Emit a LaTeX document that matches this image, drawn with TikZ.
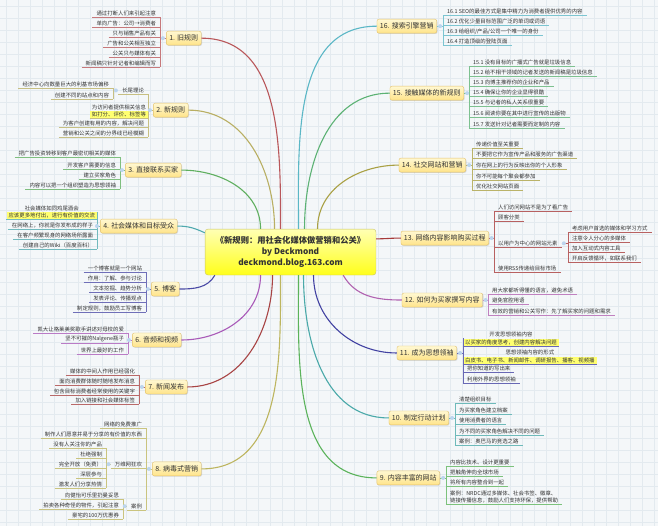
\documentclass[tikz,border=0pt]{standalone}
\usepackage{fontspec}
\setmainfont{Noto Sans CJK SC}
\usepackage{tikz}
\usetikzlibrary{positioning,shadows}
\definecolor{Paper}{HTML}{F4F7F9}
\definecolor{Grid}{HTML}{E3EAEF}
\definecolor{Ink}{HTML}{333333}
\definecolor{CoreLine}{HTML}{C9C36A}
\definecolor{CoreTop}{HTML}{FFFFB4}
\definecolor{CoreBot}{HTML}{FFFF1A}
\definecolor{TopicLine}{HTML}{E3C26E}
\definecolor{TopicTop}{HTML}{FFF8D2}
\definecolor{TopicBot}{HTML}{FFE48A}
\definecolor{HiYellow}{HTML}{FFFF70}
\definecolor{Knob}{HTML}{BCD5EE}
\definecolor{Brick}{HTML}{B9575A}
\definecolor{Olive}{HTML}{B9AF63}
\definecolor{Leaf}{HTML}{5FAF5F}
\definecolor{Teal}{HTML}{4FA9AE}
\definecolor{Indigo}{HTML}{4B4BA6}
\definecolor{Orchid}{HTML}{A95AB8}
\definecolor{Maroon}{HTML}{A84444}
\definecolor{Straw}{HTML}{BDB55F}
\definecolor{Cyan}{HTML}{5BB7C6}
\definecolor{Jade}{HTML}{5CB274}
\definecolor{Moss}{HTML}{A9A043}
\definecolor{Crimson}{HTML}{A63A3A}
\definecolor{Plum}{HTML}{B062B0}
\definecolor{Navy}{HTML}{4242A2}
\definecolor{Lagoon}{HTML}{4AA9A9}
\definecolor{Grass}{HTML}{5BB35B}
\tikzset{
 core/.style={draw=CoreLine, rounded corners=3pt, top color=CoreTop, bottom color=CoreBot, minimum width=171pt, minimum height=46pt, align=center, text=Ink, font=\fontsize{8.3}{11}\selectfont\bfseries},
 topic/.style={draw=TopicLine, rounded corners=2pt, top color=TopicTop, bottom color=TopicBot, minimum height=14pt, inner xsep=3pt, inner ysep=1pt, text=Ink, font=\fontsize{7}{8}\selectfont, drop shadow={shadow xshift=0.8pt, shadow yshift=-0.8pt, opacity=0.25}},
 leaf/.style={inner xsep=4pt, inner ysep=1pt, text=Ink, font=\fontsize{5.4}{6.6}\selectfont, append after command={(\tikzlastnode.south west) edge[draw=#1!80, line width=0.7pt] (\tikzlastnode.south east)}},
 hl/.style={leaf=#1, fill=HiYellow, inner xsep=2pt},
 note/.style={inner sep=1pt, text=Ink, font=\fontsize{5.4}{6.6}\selectfont},
 knob/.style={circle, fill=Knob, inner sep=0pt, minimum size=4pt},
 bar/.style={draw=#1!80, line width=0.7pt},
 link/.style={draw=#1, line width=1.1pt}
}
\begin{document}
\begin{tikzpicture}[x=1pt,y=-1pt]
\fill[Paper] (0,0) rectangle (658,526);
\foreach \gx in {6,18,...,658}{\draw[Grid,line width=0.4pt] (\gx,0) -- (\gx,526);}
\foreach \gy in {6,18,...,526}{\draw[Grid,line width=0.4pt] (0,\gy) -- (658,\gy);}
\useasboundingbox (0,0) rectangle (658,526);

\node[core] (core) at (290.5,252) {《新规则：用社会化媒体做营销和公关》\\by Deckmond\\deckmond.blog.163.com};

% left side
\node[topic, anchor=west] (m1) at (166,38) {1. 旧规则};
\node[leaf=Brick, anchor=south east] (a1) at (160,17) {通过打断人们来引起注意};
\node[leaf=Brick, anchor=south east] (a2) at (160,27) {单向广告：公司→消费者};
\node[leaf=Brick, anchor=south east] (a3) at (160,37) {只与销售产品有关};
\node[leaf=Brick, anchor=south east] (a4) at (160,47) {广告和公关相互独立};
\node[leaf=Brick, anchor=south east] (a5) at (160,57) {公关只与媒体有关};
\node[leaf=Brick, anchor=south east] (a6) at (160,67) {新闻稿只针对记者和编辑而写};
\draw[bar=Brick] (a1.south east) -- (a6.south east);
\draw[bar=Brick] (m1.west -| a1.south east) -- (m1.west);
\node[knob, left=1pt of m1] (k1) {};

\node[topic, anchor=west] (m2) at (153,110) {2. 新规则};
\node[leaf=Olive, anchor=south east] (b1) at (148,94) {长尾理论};
\node[leaf=Olive, anchor=south east] (b11) at (113,88) {经济中心向数量巨大的利基市场偏移};
\node[leaf=Olive, anchor=south east] (b12) at (113,99) {创建不同的站点和内容};
\draw[bar=Olive] (b11.south east) -- (b12.south east);
\draw[bar=Olive] (b1.west -| b11.south east) -- (b1.west);
\node[knob, left=0pt of b1] (k11) {};
\node[hl=Olive, anchor=south east] (b2) at (148,118) {如打分、评价、标签等};
\node[note, above=0pt of b2] (b2t) {为访问者提供相关信息};
\node[leaf=Olive, anchor=south east] (b3) at (148,127) {为客户创建有用的内容，解决问题};
\node[leaf=Olive, anchor=south east] (b4) at (148,137) {营销和公关之间的分界线已经模糊};
\draw[bar=Olive] (b1.south east) -- (b4.south east);
\draw[bar=Olive] (m2.west -| b1.south east) -- (m2.west);
\node[knob, left=1pt of m2] (k2) {};

\node[topic, anchor=west] (m3) at (125,170) {3. 直接联系买家};
\node[leaf=Leaf, anchor=south east] (c1) at (120,157) {把广告投资转移到客户最密切相关的媒体};
\node[leaf=Leaf, anchor=south east] (c2) at (120,169) {开发客户需要的信息};
\node[leaf=Leaf, anchor=south east] (c3) at (120,179) {建立买家角色};
\node[leaf=Leaf, anchor=south east] (c4) at (120,189) {内容可以把一个组织塑造为思想领袖};
\draw[bar=Leaf] (c1.south east) -- (c4.south east);
\draw[bar=Leaf] (m3.west -| c1.south east) -- (m3.west);
\node[knob, left=1pt of m3] (k3) {};

\node[topic, anchor=west] (m4) at (100,226) {4. 社会媒体和目标受众};
\node[hl=Teal, anchor=south east] (d1) at (97,219.5) {应该更多地付出，进行有价值的交流};
\node[note, above=0pt of d1] (d1t) {社会媒体如同鸡尾酒会};
\node[leaf=Teal, anchor=south east] (d2) at (97,229) {在网络上，你就是你发布成的样子};
\node[leaf=Teal, anchor=south east] (d3) at (97,239) {在客户频繁现身的网络场所露面};
\node[leaf=Teal, anchor=south east] (d4) at (97,249) {创建自己的Wiki（百度百科）};
\draw[bar=Teal] (d1.north east) -- (d4.south east);
\draw[bar=Teal] (m4.west -| d1.south east) -- (m4.west);
\node[knob, left=1pt of m4] (k4) {};

\node[topic, anchor=west] (m5) at (151,289) {5. 博客};
\node[leaf=Indigo, anchor=south east] (e1) at (146,272) {一个博客就是一个网站};
\node[leaf=Indigo, anchor=south east] (e2) at (146,282) {作用：了解、参与讨论};
\node[leaf=Indigo, anchor=south east] (e3) at (146,292) {文本挖掘、趋势分析};
\node[leaf=Indigo, anchor=south east] (e4) at (146,302) {发表评论、传播观点};
\node[leaf=Indigo, anchor=south east] (e5) at (146,312) {制定规则，鼓励员工写博客};
\draw[bar=Indigo] (e1.south east) -- (e5.south east);
\draw[bar=Indigo] (m5.west -| e1.south east) -- (m5.west);
\node[knob, left=1pt of m5] (k5) {};

\node[topic, anchor=west] (m6) at (132,340) {6. 音频和视频};
\node[leaf=Orchid, anchor=south east] (f1) at (128,333) {凯大让格莱美奖歌手讲述对母校的爱};
\node[leaf=Orchid, anchor=south east] (f2) at (128,343) {坚不可摧的Nalgene瓶子};
\node[leaf=Orchid, anchor=south east] (f3) at (128,354) {世界上最好的工作};
\draw[bar=Orchid] (f1.south east) -- (f3.south east);
\draw[bar=Orchid] (m6.west -| f1.south east) -- (m6.west);
\node[knob, left=1pt of m6] (k6) {};

\node[topic, anchor=west] (m7) at (145,387) {7. 新闻发布};
\node[leaf=Maroon, anchor=south east] (g1) at (139,375) {媒体的中间人作用已经弱化};
\node[leaf=Maroon, anchor=south east] (g2) at (139,385) {面向消费群体随时随地发布消息};
\node[leaf=Maroon, anchor=south east] (g3) at (139,395) {包含目标消费者经常使用的关键字};
\node[leaf=Maroon, anchor=south east] (g4) at (139,404) {加入链接和社会媒体标签};
\draw[bar=Maroon] (g1.south east) -- (g4.south east);
\draw[bar=Maroon] (m7.west -| g1.south east) -- (m7.west);
\node[knob, left=1pt of m7] (k7) {};

\node[topic, anchor=west] (m8) at (152,469) {8. 病毒式营销};
\node[leaf=Straw, anchor=south east] (h1) at (146,428) {网络的免费推广};
\node[leaf=Straw, anchor=south east] (h2) at (146,438) {制作人们愿意并易于分享的有价值的东西};
\node[leaf=Straw, anchor=south east] (h3) at (146,468) {万维网狂欢};
\node[leaf=Straw, anchor=south east] (h31) at (106,448) {没有人关注你的产品};
\node[leaf=Straw, anchor=south east] (h32) at (106,458) {杜绝强制};
\node[leaf=Straw, anchor=south east] (h33) at (106,468) {完全开放（免费）};
\node[leaf=Straw, anchor=south east] (h34) at (106,478) {深层参与};
\node[leaf=Straw, anchor=south east] (h35) at (106,488) {激发人们分享热情};
\draw[bar=Straw] (h31.south east) -- (h35.south east);
\draw[bar=Straw] (h3.west -| h31.south east) -- (h3.west);
\node[knob, left=0pt of h3] (k83) {};
\node[leaf=Straw, anchor=south east] (h4) at (146,510) {案例};
\node[leaf=Straw, anchor=south east] (h41) at (123,499) {向健怡可乐里扔曼妥思};
\node[leaf=Straw, anchor=south east] (h42) at (123,509) {拍卖各种奇怪的物件，引起注意};
\node[leaf=Straw, anchor=south east] (h43) at (123,519) {豪宅的100万优惠券};
\draw[bar=Straw] (h41.south east) -- (h43.south east);
\draw[bar=Straw] (h4.west -| h41.south east) -- (h4.west);
\node[knob, left=0pt of h4] (k84) {};
\draw[bar=Straw] (h1.south east) -- (h4.south east);
\draw[bar=Straw] (m8.west -| h1.south east) -- (m8.west);
\node[knob, left=1pt of m8] (k8) {};

% right side
\node[topic, anchor=east] (m16) at (437,26) {16. 搜索引擎营销};
\node[leaf=Cyan, anchor=south west] (p1) at (443,15) {16.1 SEO的最佳方式是集中精力为消费者提供优秀的内容};
\node[leaf=Cyan, anchor=south west] (p2) at (443,25) {16.2 优化少量目标范围广泛的单词或词语};
\node[leaf=Cyan, anchor=south west] (p3) at (443,35) {16.3 给组织/产品/公司一个唯一的身份};
\node[leaf=Cyan, anchor=south west] (p4) at (443,45) {16.4 打造顶级的登陆页面};
\draw[bar=Cyan] (p1.south west) -- (p4.south west);
\draw[bar=Cyan] (m16.east) -- (m16.east -| p1.south west);
\node[knob, right=1pt of m16] (k16) {};

\node[topic, anchor=east] (m15) at (464,93) {15. 接触媒体的新规则};
\node[leaf=Jade, anchor=south west] (q1) at (469,66) {15.1 没有目标的广播式广告就是垃圾信息};
\node[leaf=Jade, anchor=south west] (q2) at (469,76) {15.2 给不相干领域的记者发送的新闻稿是垃圾信息};
\node[leaf=Jade, anchor=south west] (q3) at (469,86) {15.3 向博主推荐你的企业和产品};
\node[leaf=Jade, anchor=south west] (q4) at (469,96) {15.4 确保让你的企业显得很酷};
\node[leaf=Jade, anchor=south west] (q5) at (469,106) {15.5 与记者的私人关系很重要};
\node[leaf=Jade, anchor=south west] (q6) at (469,117) {15.6 阅读你要在其中进行宣传的出版物};
\node[leaf=Jade, anchor=south west] (q7) at (469,128) {15.7 发送针对记者需要而定制的内容};
\draw[bar=Jade] (q1.south west) -- (q7.south west);
\draw[bar=Jade] (m15.east) -- (m15.east -| q1.south west);
\node[knob, right=1pt of m15] (k15) {};

\node[topic, anchor=east] (m14) at (466,165) {14. 社交网站和营销};
\node[leaf=Moss, anchor=south west] (r1) at (472,148) {传递价值至关重要};
\node[leaf=Moss, anchor=south west] (r2) at (472,158) {不要把它作为宣传产品和服务的广告渠道};
\node[leaf=Moss, anchor=south west] (r3) at (472,169) {你在网上的行为反映出你的个人形象};
\node[leaf=Moss, anchor=south west] (r4) at (472,180) {你不可能每个聚会都参加};
\node[leaf=Moss, anchor=south west] (r5) at (472,190) {优化社交网站页面};
\draw[bar=Moss] (r1.south west) -- (r5.south west);
\draw[bar=Moss] (m14.east) -- (m14.east -| r1.south west);
\node[knob, right=1pt of m14] (k14) {};

\node[topic, anchor=east] (m13) at (489,238) {13. 网络内容影响购买过程};
\node[leaf=Crimson, anchor=south west] (s1) at (494,211) {人们访问网站不是为了看广告};
\node[leaf=Crimson, anchor=south west] (s2) at (494,221) {顾客分类};
\node[leaf=Crimson, anchor=south west] (s3) at (494,247) {以用户为中心的网站元素};
\node[leaf=Crimson, anchor=south west] (s31) at (568,232) {考虑用户首选的媒体和学习方式};
\node[leaf=Crimson, anchor=south west] (s32) at (568,242) {注意令人分心的多媒体};
\node[leaf=Crimson, anchor=south west] (s33) at (568,252) {加入互动式内容工具};
\node[leaf=Crimson, anchor=south west] (s34) at (568,262) {开启反馈循环，如联系我们};
\draw[bar=Crimson] (s31.south west) -- (s34.south west);
\draw[bar=Crimson] (s3.east) -- (s3.east -| s31.south west);
\node[knob, right=0pt of s3] (k133) {};
\node[leaf=Crimson, anchor=south west] (s4) at (494,272) {使用RSS传递给目标市场};
\draw[bar=Crimson] (s1.south west) -- (s4.south west);
\draw[bar=Crimson] (m13.east) -- (m13.east -| s1.south west);
\node[knob, right=0.5pt of m13] (k13) {};

\node[topic, anchor=east] (m12) at (483,300) {12. 如何为买家撰写内容};
\node[leaf=Plum, anchor=south west] (t1) at (488,294) {用大家都听得懂的语言，避免术语};
\node[leaf=Plum, anchor=south west] (t2) at (488,304) {避免官腔用语};
\node[leaf=Plum, anchor=south west] (t3) at (488,315) {有效的营销和公关写作：先了解买家的问题和需求};
\draw[bar=Plum] (t1.south west) -- (t3.south west);
\draw[bar=Plum] (m12.east) -- (m12.east -| t1.south west);
\node[knob, right=0.5pt of m12] (k12) {};

\node[topic, anchor=east] (m11) at (457,353) {11. 成为思想领袖};
\node[hl=Navy, anchor=south west] (u1) at (463,346) {以买家的角度思考，创建内容解决问题};
\node[note, above=0pt of u1] (u1t) {开发思想领袖内容};
\node[hl=Navy, anchor=south west] (u2) at (463,364) {白皮书、电子书、新闻邮件、调研报告、播客、视频播};
\node[note, above=0pt of u2] (u2t) {思想领袖内容的形式};
\node[leaf=Navy, anchor=south west] (u3) at (463,372) {把你知道的写出来};
\node[leaf=Navy, anchor=south west] (u4) at (463,383) {利用外界的思想领袖};
\draw[bar=Navy] (u1.north west) -- (u4.south west);
\draw[bar=Navy] (m11.east) -- (m11.east -| u1.south west);
\node[knob, right=1pt of m11] (k11r) {};

\node[topic, anchor=east] (m10) at (449,418) {10. 制定行动计划};
\node[leaf=Lagoon, anchor=south west] (v1) at (455,403) {清楚组织目标};
\node[leaf=Lagoon, anchor=south west] (v2) at (455,414) {为买家角色建立档案};
\node[leaf=Lagoon, anchor=south west] (v3) at (455,424) {使用消费者的语言};
\node[leaf=Lagoon, anchor=south west] (v4) at (455,435) {为不同的买家角色解决不同的问题};
\node[leaf=Lagoon, anchor=south west] (v5) at (455,445) {案例：奥巴马的竞选之路};
\draw[bar=Lagoon] (v1.south west) -- (v5.south west);
\draw[bar=Lagoon] (m10.east) -- (m10.east -| v1.south west);
\node[knob, right=1pt of m10] (k10) {};

\node[topic, anchor=east] (m9) at (440,478) {9. 内容丰富的网站};
\node[leaf=Grass, anchor=south west] (w1) at (446,466) {内容比技术、设计更重要};
\node[leaf=Grass, anchor=south west] (w2) at (446,476) {把触角伸向全球市场};
\node[leaf=Grass, anchor=south west] (w3) at (446,486) {将所有内容整合到一起};
\node[leaf=Grass, anchor=south west, align=left] (w4) at (446,504) {案例：NRDC通过多媒体、社会书签、徽章、\\链接传播信息，鼓励人们支持环保，提供帮助};
\draw[bar=Grass] (w1.south west) -- (w4.south west);
\draw[bar=Grass] (m9.east) -- (m9.east -| w1.south west);
\node[knob, right=1pt of m9] (k9) {};

% links from the centre
\draw[link=Brick] ([xshift=-10pt]core.north) to[out=90,in=0] (m1.east);
\draw[link=Olive] ([xshift=-16pt]core.north) to[out=90,in=0] (m2.east);
\draw[link=Leaf] ([xshift=-30pt]core.north) to[out=90,in=0] (m3.east);
\draw[link=Teal] ([yshift=-4pt]core.north west) to[out=155,in=0] (m4.east);
\draw[link=Indigo] ([xshift=10pt]core.south west) to[out=-120,in=0] (m5.east);
\draw[link=Orchid] ([xshift=-30pt]core.south) to[out=-90,in=0] (m6.east);
\draw[link=Maroon] ([xshift=-18pt]core.south) to[out=-90,in=0] (m7.east);
\draw[link=Straw] ([xshift=-10pt]core.south) to[out=-90,in=0] (m8.east);
\draw[link=Cyan] ([xshift=8pt]core.north) to[out=90,in=180] (m16.west);
\draw[link=Jade] ([xshift=14pt]core.north) to[out=90,in=180] (m15.west);
\draw[link=Moss] ([xshift=27pt]core.north) to[out=90,in=180] (m14.west);
\draw[link=Crimson] ([yshift=-10pt]core.north east) to[out=0,in=180] (m13.west);
\draw[link=Plum] ([xshift=-33pt]core.south east) to[out=-60,in=180] (m12.west);
\draw[link=Navy] ([xshift=23pt]core.south) to[out=-90,in=180] (m11.west);
\draw[link=Lagoon] ([xshift=13pt]core.south) to[out=-90,in=180] (m10.west);
\draw[link=Grass] ([xshift=8pt]core.south) to[out=-90,in=180] (m9.west);
\end{tikzpicture}
\end{document}
